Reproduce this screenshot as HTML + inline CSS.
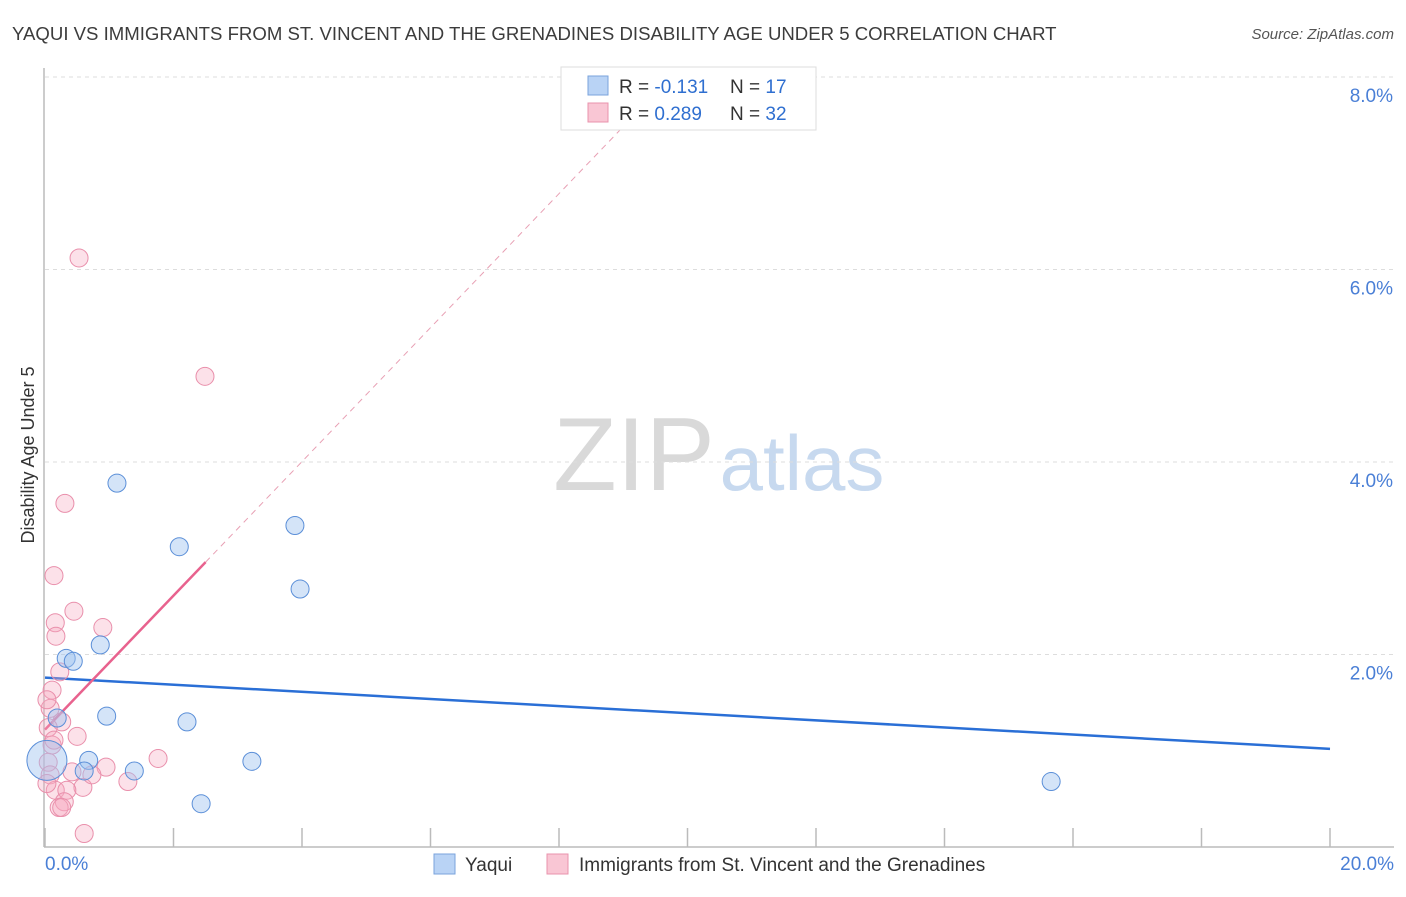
<!DOCTYPE html>
<html><head><meta charset="utf-8"><style>
body{margin:0;background:#fff;font-family:"Liberation Sans",sans-serif}
svg text{font-family:"Liberation Sans",sans-serif}
</style></head><body>
<svg width="1406" height="892" xmlns="http://www.w3.org/2000/svg">
<text x="12" y="40" font-size="18.6" fill="#3c3c3c">YAQUI VS IMMIGRANTS FROM ST. VINCENT AND THE GRENADINES DISABILITY AGE UNDER 5 CORRELATION CHART</text>
<text x="1394" y="39" font-size="15" fill="#555" font-style="italic" text-anchor="end">Source: ZipAtlas.com</text>
<g>
<text x="634" y="490" font-size="104" fill="#d9d9d9" text-anchor="middle" font-family="Liberation Serif">ZIP</text>
<text x="802" y="490" font-size="78" fill="#c7d9ef" text-anchor="middle">atlas</text>
</g>
<g id="grid"></g>
<g id="axes"></g>
<g id="trends"></g>
<g id="points"></g>
<text transform="translate(34,455) rotate(-90)" font-size="18" fill="#333" text-anchor="middle">Disability Age Under 5</text>
<text x="45" y="870" font-size="19" fill="#4a7fd6">0.0%</text>
<text x="1394" y="870" font-size="19" fill="#4a7fd6" text-anchor="end">20.0%</text>
<g>
<rect x="561" y="67" width="255" height="63" fill="#fff" stroke="#ddd"/>
<rect x="588" y="76" width="20" height="19" fill="#b9d3f5" stroke="#7aa3dc"/>
<rect x="588" y="103" width="20" height="19" fill="#f9c6d4" stroke="#e993ac"/>
<text x="619" y="93" font-size="19" fill="#333">R = <tspan fill="#2f6fd0">-0.131</tspan></text>
<text x="730" y="93" font-size="19" fill="#333">N = <tspan fill="#2f6fd0">17</tspan></text>
<text x="619" y="120" font-size="19" fill="#333">R = <tspan fill="#2f6fd0">0.289</tspan></text>
<text x="730" y="120" font-size="19" fill="#333">N = <tspan fill="#2f6fd0">32</tspan></text>
</g>
<g>
<rect x="434" y="854" width="21" height="20" fill="#b9d3f5" stroke="#7aa3dc"/>
<text x="465" y="871" font-size="19" fill="#333">Yaqui</text>
<rect x="547" y="854" width="21" height="20" fill="#f9c6d4" stroke="#e993ac"/>
<text x="579" y="871" font-size="19" fill="#333">Immigrants from St. Vincent and the Grenadines</text>
</g>
</svg>
<script>
const yTicks=[2,4,6,8];
const yTickLabels=["2.0%","4.0%","6.0%","8.0%"];
const xTicks=[0,2,4,6,8,10,12,14,16,18,20];
const yaquiX=[1.12,2.09,3.89,3.97,0.33,0.44,0.86,0.96,0.19,2.21,3.22,0.68,0.61,1.39,2.43,15.66,0.03];
const yaquiY=[3.78,3.12,3.34,2.68,1.96,1.93,2.10,1.36,1.34,1.30,0.89,0.90,0.79,0.79,0.45,0.68,0.90];
const yaquiR=[9,9,9,9,9,9,9,9,9,9,9,9,9,9,9,9,20];
const immX=[0.53,2.49,0.31,0.14,0.45,0.16,0.17,0.90,0.23,0.11,0.08,0.26,0.05,0.50,0.11,0.05,0.08,0.42,0.95,1.76,1.29,0.59,0.16,0.34,0.30,0.22,0.26,0.61,0.14,0.03,0.03,0.73];
const immY=[6.12,4.89,3.57,2.82,2.45,2.33,2.19,2.28,1.82,1.63,1.44,1.30,1.24,1.15,1.06,0.88,0.75,0.78,0.83,0.92,0.68,0.62,0.59,0.59,0.47,0.41,0.41,0.14,1.11,1.53,0.66,0.75];
const yaquiTrend=[1.76,1.02];
const immTrend=[1.22,0.696];
const NS="http://www.w3.org/2000/svg";
const X=v=>45+v/20*1285, Y=v=>847-v*96.25;
function mk(tag,attrs,parent){const e=document.createElementNS(NS,tag);for(const k in attrs)e.setAttribute(k,attrs[k]);document.getElementById(parent).appendChild(e);return e;}
yTicks.forEach((t,i)=>{
 const g=mk('line',{x1:45,x2:1394,y1:Y(t),y2:Y(t),stroke:'#ddd','stroke-dasharray':'4,4'},'grid');
 
 
 const tx=mk('text',{x:1393,y:Y(t)+25,'font-size':19,fill:'#4a7fd6','text-anchor':'end'},'grid');
 tx.textContent=yTickLabels[i];
 
 
});
let a=mk('line',{x1:44,x2:44,y1:68,y2:847,stroke:'#bbb','stroke-width':1.5},'axes');


a=mk('line',{x1:44,x2:1394,y1:847,y2:847,stroke:'#bbb','stroke-width':1.5},'axes');


xTicks.forEach(t=>{
 const l=mk('line',{x1:X(t),x2:X(t),y1:828,y2:847,stroke:'#bbb','stroke-width':1.5},'axes');
 
 
});
let tl=mk('line',{x1:X(0),y1:Y(yaquiTrend[0]),x2:X(20),y2:Y(yaquiTrend[1]),stroke:'#2a6fd6','stroke-width':2.5},'trends');


const ie=v=>immTrend[0]+immTrend[1]*v;
tl=mk('line',{x1:X(2.5),y1:Y(ie(2.5)),x2:X(9.7),y2:Y(ie(9.7)),stroke:'#e8a0b4','stroke-width':1,'stroke-dasharray':'6,5'},'trends');


tl=mk('line',{x1:X(0),y1:Y(ie(0)),x2:X(2.5),y2:Y(ie(2.5)),stroke:'#e8628e','stroke-width':2.5},'trends');


immX.forEach((v,i)=>{
 const c=mk('circle',{cx:X(v),cy:Y(immY[i]),r:9,fill:'rgba(246,170,192,0.35)',stroke:'#e98fab','stroke-width':1},'points');
 
 
});
yaquiX.forEach((v,i)=>{
 const c=mk('circle',{cx:X(v),cy:Y(yaquiY[i]),r:yaquiR[i],fill:'rgba(160,196,240,0.45)',stroke:'#5b8fd8','stroke-width':1},'points');
 
 
});
</script>
</body></html>
